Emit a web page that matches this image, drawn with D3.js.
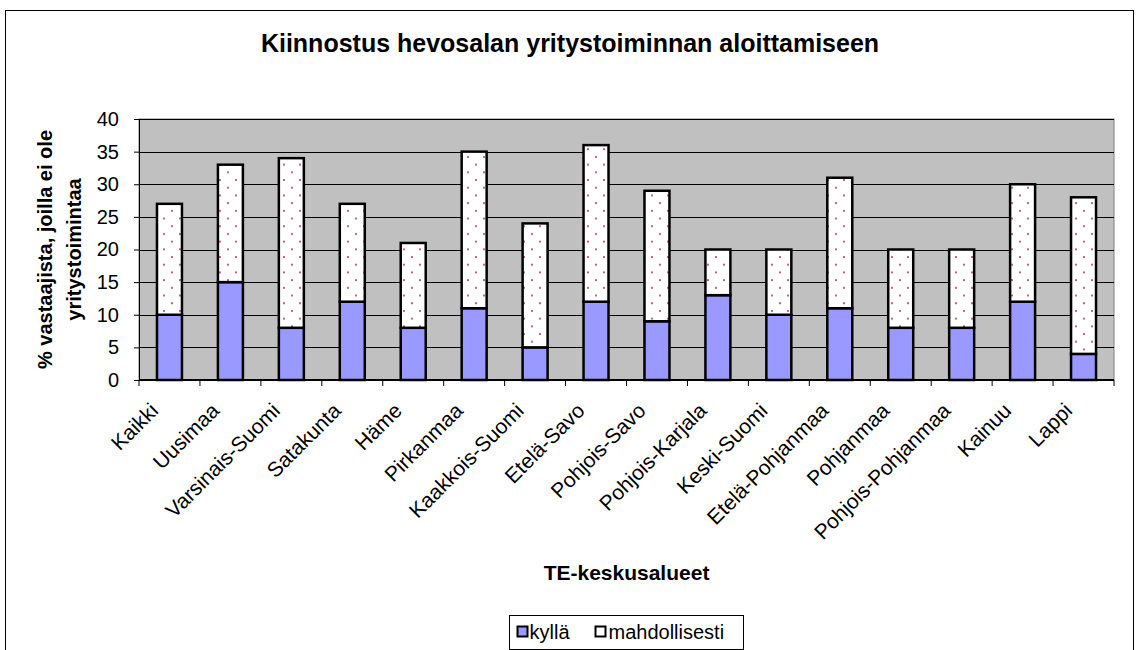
<!DOCTYPE html>
<html>
<head>
<meta charset="utf-8">
<script src="https://cdn.jsdelivr.net/npm/d3@7"></script>
<style>
  body { margin: 0; background: #fff; }
  text { font-family: "Liberation Sans", Arial, sans-serif; }
</style>
</head>
<body>
<script>
// data
var regions = ["Kaikki", "Uusimaa", "Varsinais-Suomi", "Satakunta", "Häme", "Pirkanmaa",
  "Kaakkois-Suomi", "Etelä-Savo", "Pohjois-Savo", "Pohjois-Karjala", "Keski-Suomi",
  "Etelä-Pohjanmaa", "Pohjanmaa", "Pohjois-Pohjanmaa", "Kainuu", "Lappi"];
var kylla = [10, 15, 8, 12, 8, 11, 5, 12, 9, 13, 10, 11, 8, 8, 12, 4];
var mahdollisesti = [17, 18, 26, 15, 13, 24, 19, 24, 20, 7, 10, 20, 12, 12, 18, 24];
var seriesNames = ["kyllä", "mahdollisesti"];
var yTicks = [0, 5, 10, 15, 20, 25, 30, 35, 40];

var W = 1136, H = 650;
var plot = {left: 139, right: 1114, top: 119, bottom: 380};

var svg = d3.select("body").append("svg")
  .attr("width", W).attr("height", H);

// dotted fill like the excel pattern
var defs = svg.append("defs");
var pat = defs.append("pattern")
  .attr("id", "dots")
  .attr("patternUnits", "userSpaceOnUse")
  .attr("width", 16).attr("height", 15.4);
pat.append("rect").attr("width", 16).attr("height", 15.4).attr("fill", "#fff");
pat.append("circle").attr("cx", 4).attr("cy", 3).attr("r", 1.1).attr("fill", "#a84a78");
pat.append("circle").attr("cx", 12).attr("cy", 10.7).attr("r", 1.1).attr("fill", "#a84a78");

// outer frame
svg.append("rect")
  .attr("x", 5.5).attr("y", 10.5)
  .attr("width", 1128).attr("height", 645)
  .attr("fill", "none").attr("stroke", "#000");

svg.append("text")
  .attr("x", 570).attr("y", 52)
  .attr("text-anchor", "middle")
  .style("font-size", "25px").style("font-weight", "bold")
  .text("Kiinnostus hevosalan yritystoiminnan aloittamiseen");

var x = d3.scaleBand().domain(regions)
  .range([plot.left, plot.right]).paddingInner(0.59).paddingOuter(0.295);
var y = d3.scaleLinear().domain([0, 40]).range([plot.bottom, plot.top]);

// plot background
svg.append("rect")
  .attr("x", plot.left).attr("y", plot.top)
  .attr("width", plot.right - plot.left).attr("height", plot.bottom - plot.top)
  .attr("fill", "#c0c0c0").attr("stroke", "#808080");

svg.append("g").selectAll("line")
  .data(yTicks.slice(1))
  .enter().append("line")
  .attr("x1", plot.left).attr("x2", plot.right)
  .attr("y1", function(d){ return Math.round(y(d)) + 0.5; })
  .attr("y2", function(d){ return Math.round(y(d)) + 0.5; })
  .attr("stroke", "#000");

// stacked bars
var stackData = regions.map(function(r, i){
  return {region: r, "kyllä": kylla[i], "mahdollisesti": mahdollisesti[i]};
});
var stacked = d3.stack().keys(seriesNames)(stackData);
var fills = {"kyllä": "#9999ff", "mahdollisesti": "url(#dots)"};

svg.append("g").selectAll("g")
  .data(stacked)
  .enter().append("g")
  .attr("fill", function(d){ return fills[d.key]; })
  .selectAll("rect")
  .data(function(d){ return d; })
  .enter().append("rect")
  .attr("x", function(d){ return x(d.data.region); })
  .attr("y", function(d){ return y(d[1]); })
  .attr("width", x.bandwidth())
  .attr("height", function(d){ return y(d[0]) - y(d[1]); })
  .attr("stroke", "#000").attr("stroke-width", 2.5);

// y axis
var yAxis = svg.append("g")
  .attr("transform", "translate(" + plot.left + ",0)")
  .call(d3.axisLeft(y).tickValues(yTicks).tickSize(5).tickPadding(15));
yAxis.select(".domain").attr("stroke", "#000");
yAxis.selectAll("text").style("font-size", "20px").attr("fill", "#000")
  .style("font-family", "Liberation Sans, Arial, sans-serif");

// x axis: ticks on the band edges
var xAxis = svg.append("g")
  .attr("transform", "translate(0," + plot.bottom + ")");
xAxis.append("line")
  .attr("x1", plot.left).attr("x2", plot.right)
  .attr("stroke", "#000").attr("stroke-width", 2);
var step = x.step();
xAxis.selectAll(".tk")
  .data(d3.range(regions.length + 1))
  .enter().append("line")
  .attr("class", "tk")
  .attr("x1", function(i){ return plot.left + i * step; })
  .attr("x2", function(i){ return plot.left + i * step; })
  .attr("y1", 0).attr("y2", 6)
  .attr("stroke", "#000");
xAxis.selectAll(".lbl")
  .data(regions)
  .enter().append("text")
  .attr("class", "lbl")
  .attr("text-anchor", "end")
  .style("font-size", "21px")
  .attr("transform", function(d){
    var cx = x(d) + x.bandwidth() / 2 - 10;
    return "translate(" + cx + ",32) rotate(-45)";
  })
  .text(function(d){ return d; });

svg.append("text")
  .attr("x", (plot.left + plot.right) / 2).attr("y", 580)
  .attr("text-anchor", "middle")
  .style("font-size", "21px").style("font-weight", "bold")
  .text("TE-keskusalueet");

// y title, two lines
var yt = svg.append("text")
  .attr("transform", "translate(52," + (plot.top + plot.bottom) / 2 + ") rotate(-90)")
  .attr("text-anchor", "middle")
  .style("font-size", "20px").style("font-weight", "bold");
yt.append("tspan").attr("x", 0).attr("dy", 0).text("% vastaajista, joilla ei ole");
yt.append("tspan").attr("x", 0).attr("dy", 29).text("yritystoimintaa");

// legend
var lg = svg.append("g").attr("transform", "translate(509.5,615.5)");
lg.append("rect").attr("width", 234).attr("height", 34)
  .attr("fill", "#fff").attr("stroke", "#000");
var items = [{name: seriesNames[0], x: 8, tx: 20}, {name: seriesNames[1], x: 86, tx: 99}];
items.forEach(function(it){
  lg.append("rect")
    .attr("x", it.x).attr("y", 11).attr("width", 10).attr("height", 10)
    .attr("fill", fills[it.name]).attr("stroke", "#000").attr("stroke-width", 2);
  lg.append("text")
    .attr("x", it.tx).attr("y", 23)
    .style("font-size", "20px")
    .text(it.name);
});
</script>
</body>
</html>
